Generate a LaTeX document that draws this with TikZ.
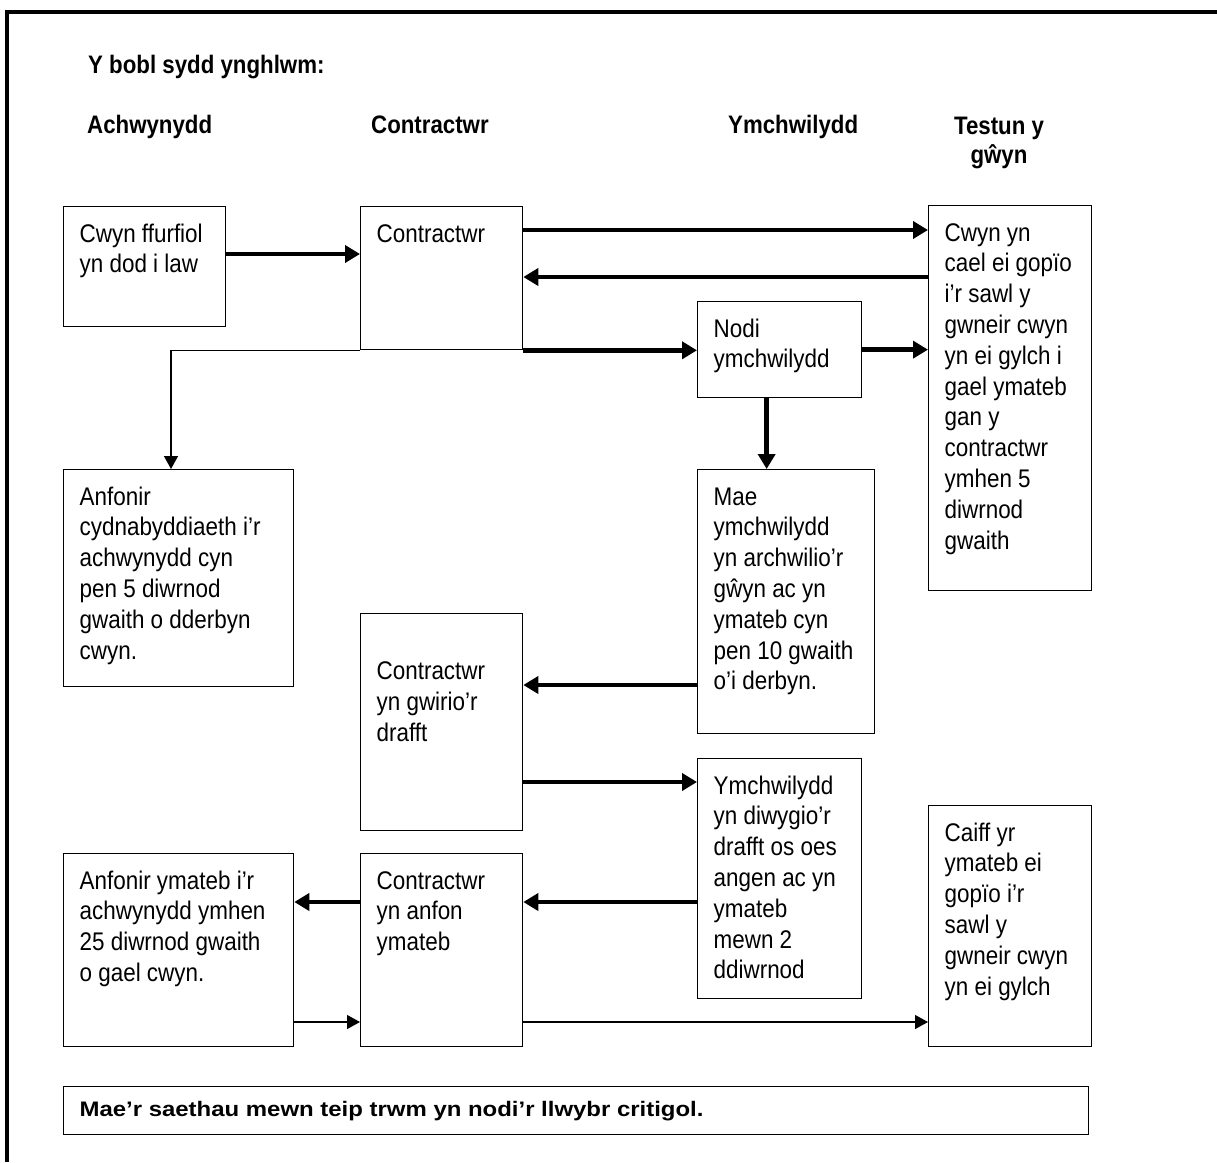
\documentclass[tikz,border=0pt]{standalone}
\usepackage{fontspec}
\setmainfont[FakeStretch=0.88]{Liberation Sans}
\newfontfamily\widefont[FakeStretch=1.14]{Liberation Sans}
\usetikzlibrary{arrows.meta}
\newcommand{\blwch}[3]{\parbox[t][#2pt][t]{#1pt}{\raggedright\leftskip=16pt\rule{0pt}{35.5pt}#3}}

\begin{document}
\begin{tikzpicture}[x=1pt,y=1pt,yscale=-1,
  cellbox/.style={draw, line width=1.3pt, inner sep=0pt, anchor=north west, font=\fontsize{25.5}{30.8}\selectfont},
  heading/.style={inner sep=0pt, anchor=base west, font=\bfseries\fontsize{25.3}{29}\selectfont},
  critarr/.style={line width=4.5pt, -{Triangle[length=15pt,width=17pt]}},
  thinarr/.style={line width=1.3pt, -{Triangle[length=13pt,width=14pt]}}]
\useasboundingbox (0,0) rectangle (1217,1162);

%Outer frame
\draw [line width=3.5pt] (7,1162) -- (7,12) -- (1217,12);

% Text Node
\node[heading] (pobl) at (88,73) {Y bobl sydd ynghlwm:};
\node[heading] (hach) at (87,133) {Achwynydd};
\node[heading] (hcon) at (371,133) {Contractwr};
\node[heading] (hymch) at (728,133) {Ymchwilydd};
\node[heading, anchor=north, align=center] (htest) at (999,117) {Testun y\\gŵyn};

%Shape: Rectangle
\node[cellbox] (cwyn) at (63,206) {\blwch{162}{120}{Cwyn ffurfiol\\yn dod i law}};
\node[cellbox] (con) at (360,206) {\blwch{162}{143}{Contractwr}};
\node[cellbox] (copio) at (928,205) {\blwch{163}{385}{Cwyn yn\\cael ei gopïo\\i’r sawl y\\gwneir cwyn\\yn ei gylch i\\gael ymateb\\gan y\\contractwr\\ymhen 5\\diwrnod\\gwaith}};
\node[cellbox] (nodi) at (697,301) {\blwch{164}{96}{Nodi\\ymchwilydd}};
\node[cellbox] (cydn) at (63,469) {\blwch{230}{217}{Anfonir\\cydnabyddiaeth i’r\\achwynydd cyn\\pen 5 diwrnod\\gwaith o dderbyn\\cwyn.}};
\node[cellbox] (arch) at (697,469) {\blwch{177}{264}{Mae\\ymchwilydd\\yn archwilio’r\\gŵyn ac yn\\ymateb cyn\\pen 10 gwaith\\o’i derbyn.}};
\node[cellbox] (gwirio) at (360,613) {\blwch{162}{217}{\mbox{}\\Contractwr\\yn gwirio’r\\drafft}};
\node[cellbox] (diwygio) at (697,758) {\blwch{164}{240}{Ymchwilydd\\yn diwygio’r\\drafft os oes\\angen ac yn\\ymateb\\mewn 2\\ddiwrnod}};
\node[cellbox] (ymateb) at (63,853) {\blwch{230}{193}{Anfonir ymateb i’r\\achwynydd ymhen\\25 diwrnod gwaith\\o gael cwyn.}};
\node[cellbox] (anfon) at (360,853) {\blwch{162}{193}{Contractwr\\yn anfon\\ymateb}};
\node[cellbox] (caiff) at (928,805) {\blwch{163}{241}{Caiff yr\\ymateb ei\\gopïo i’r\\sawl y\\gwneir cwyn\\yn ei gylch}};
\node[cellbox] (nodyn) at (63,1086) {\parbox[c][48pt][c]{1025pt}{\leftskip=16pt\widefont\bfseries\fontsize{21}{25}\selectfont Mae’r saethau mewn teip trwm yn nodi’r llwybr critigol.}};

%Arrow rows
\coordinate (r1) at (0,254);
\coordinate (r2) at (0,230);
\coordinate (r3) at (0,277);
\coordinate (r5) at (0,685);
\coordinate (r6) at (0,782);
\coordinate (r7) at (0,902);
\coordinate (r8) at (0,1022);
\coordinate (tee) at (con.south west -| 171,0);
\coordinate (dn) at ([xshift=-13pt]nodi.south);

%Straight Lines
\draw[critarr] (cwyn.east |- r1) -- (con.west |- r1);
\draw[critarr] (con.east |- r2) -- (copio.west |- r2);
\draw[critarr] (copio.west |- r3) -- (con.east |- r3);
\draw[critarr] (con.south east) -- (con.south east -| nodi.west);
\draw[critarr] (nodi.east) -- (copio.west |- nodi.east);
\draw[critarr] (dn) -- (dn |- arch.north);
\draw[thinarr] (con.south west) -- (tee) -- (tee |- cydn.north);
\draw[critarr] (arch.west |- r5) -- (gwirio.east |- r5);
\draw[critarr] (gwirio.east |- r6) -- (diwygio.west |- r6);
\draw[critarr] (diwygio.west |- r7) -- (anfon.east |- r7);
\draw[critarr] (anfon.west |- r7) -- (ymateb.east |- r7);
\draw[thinarr] (ymateb.east |- r8) -- (anfon.west |- r8);
\draw[thinarr] (anfon.east |- r8) -- (caiff.west |- r8);

\end{tikzpicture}
\end{document}
